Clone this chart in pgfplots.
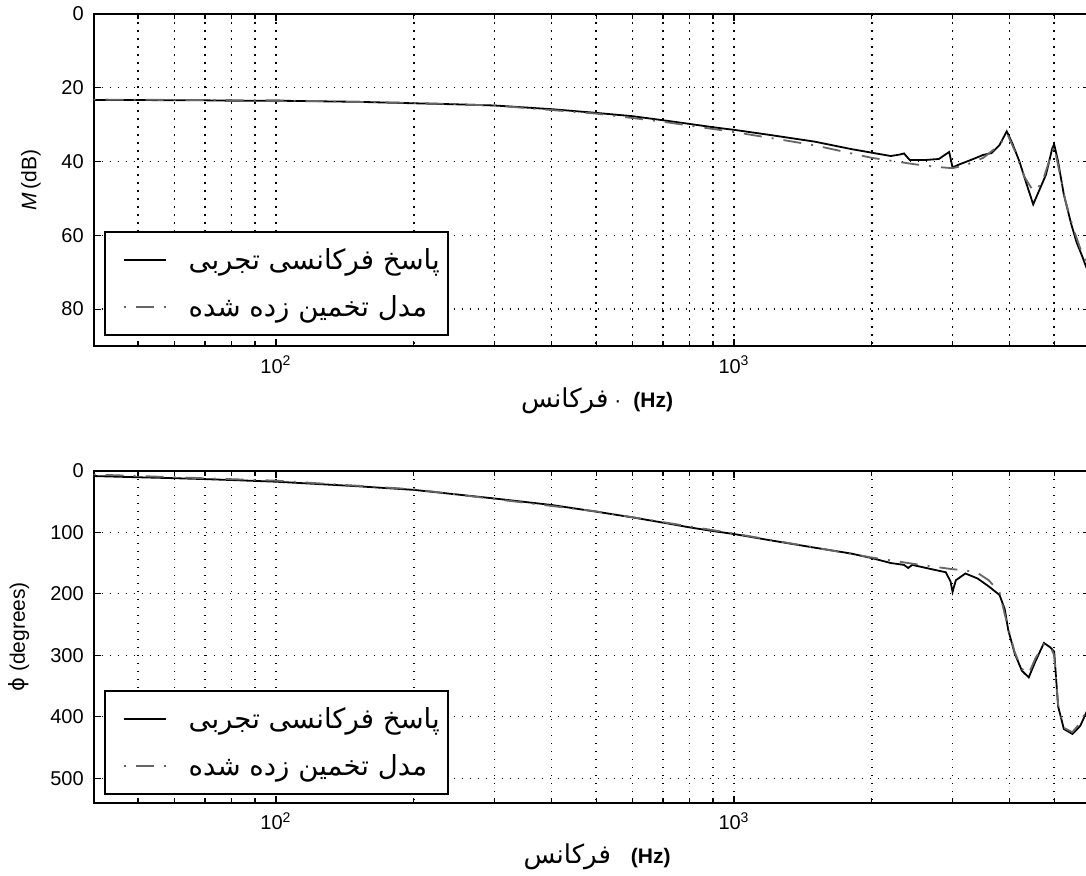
\documentclass[border=0pt]{standalone}
\usepackage{pgfplots}
\pgfplotsset{compat=1.18}
\usepackage{fontspec}
\setmainfont{Liberation Sans}
\newfontfamily\arabicfont[Script=Arabic]{DejaVu Sans}
\newfontfamily\dejavu{DejaVu Sans}
\TeXXeTstate=1

\tikzset{
  expstyle/.style={black, line width=0.9pt},
  modstyle/.style={black!60, line width=0.9pt, dash pattern=on 1pt off 5pt on 9pt off 5pt},
}
\pgfplotsset{
  every axis/.append style={
    scale only axis, width=498.35pt, height=166pt,
    xmin=40, xmax=6000, y dir=reverse,
    xtick={100,1000}, xticklabels={10\textsuperscript{2},10\textsuperscript{3}},
    minor xtick={40,50,60,70,80,90,200,300,400,500,600,700,800,900,2000,3000,4000,5000},
    xmajorgrids=true, xminorgrids=true, ymajorgrids=true,
    major grid style={black, line width=0.7pt, dash pattern=on 0.8pt off 3.2pt},
    minor grid style={black, line width=0.7pt, dash pattern=on 0.8pt off 3.2pt},
    tick align=inside,
    major tick length=3.5pt, minor tick length=2.5pt,
    tick style={black, line width=0.6pt},
    axis line style={black, line width=0.8pt},
    tick label style={font=\fontsize{10}{12}\selectfont},
    yticklabel style={xshift=-1.5pt},
    xticklabel style={yshift=-1.5pt},
    label style={font=\fontsize{10.5}{12}\selectfont},
    xlabel style={at={(axis description cs:0.505,-0.184)}, anchor=base},
    legend cell align=left,
    legend style={anchor=south west,
      draw=black, line width=0.8pt, fill=white,
      inner xsep=2pt, inner ysep=6pt, row sep=7.5pt,
      /tikz/every odd column/.append style={column sep=9pt},
      font=\arabicfont\fontsize{13.8}{16}\selectfont},
  },
}

\begin{document}
\begin{tikzpicture}
\useasboundingbox (0,0) rectangle (543pt,-437.5pt);

% ---------------- magnitude ----------------
\begin{semilogxaxis}[
  at={(46.85pt,-7pt)}, anchor=north west,
  /pgf/number format/assume math mode=true,
  legend image code/.code={\path (0pt,0pt); \draw[#1] (7pt,0pt) -- (28pt,0pt);},
  legend style={at={(axis description cs:0.0103,0.03)}},
  ymin=0, ymax=90, ytick={0,20,40,60,80},
  ylabel={\textit{M}\,(dB)},
  ylabel style={at={(axis description cs:-0.0629,0.5)}, anchor=center},
  xlabel={{\arabicfont\fontsize{13}{15}\selectfont\beginR فرکانس\endR}\hspace{3pt}·\hspace{6pt}\textbf{(Hz)}},
]
\addplot[expstyle] coordinates {
(40,23.3) (50,23.3) (60,23.4) (70,23.4) (80,23.5) (100,23.5) (150,23.8) (200,24.2)
(250,24.5) (300,24.8) (400,25.8) (500,26.8) (600,27.7) (700,28.8) (800,29.8) (900,30.7)
(1000,31.4) (1200,32.8) (1500,34.6) (1800,36.6) (2000,37.6) (2200,38.5) (2300,38.1)
(2350,37.8) (2420,39.6) (2600,39.6) (2800,39.3) (2950,37.4) (3000,41.6) (3100,40.8)
(3300,39.5) (3500,38.2) (3650,37.7) (3800,35.5) (3940,31.8) (4050,35) (4200,40)
(4350,46) (4500,51.6) (4650,47.5) (4800,43.5) (4950,36.5) (5000,35.3) (5100,40)
(5250,49) (5450,57) (5600,62) (5750,65.5) (5870,68.5) (6000,71)
};
\addlegendentry{\beginR پاسخ فرکانسی تجربی\endR}
\addplot[modstyle] coordinates {
(40,23.2) (100,23.4) (200,24.1) (300,24.8) (500,27.0) (700,29.2) (1000,32.0)
(1300,34.3) (1500,35.6) (2000,39.0) (2500,40.8) (2800,41.5) (3000,41.8) (3200,41)
(3500,39) (3800,35.5) (3950,32.5) (4100,37) (4300,44) (4500,48) (4700,46) (4900,39)
(5000,36) (5100,41) (5300,51) (5500,58) (5700,63.5) (6000,70)
};
\addlegendentry{\beginR مدل تخمین زده شده\endR}
\end{semilogxaxis}

% ---------------- phase ----------------
\begin{semilogxaxis}[
  at={(46.85pt,-235.4pt)}, anchor=north west,
  /pgf/number format/assume math mode=true,
  legend image code/.code={\path (0pt,0pt); \draw[#1] (7pt,0pt) -- (28pt,0pt);},
  legend style={at={(axis description cs:0.0103,0.024)}},
  ymin=0, ymax=540, ytick={0,100,200,300,400,500},
  ylabel={{\dejavu ϕ} (degrees)},
  ylabel style={at={(axis description cs:-0.0749,0.5)}, anchor=center},
  xlabel={{\arabicfont\fontsize{13}{15}\selectfont\beginR فرکانس\endR}\hspace{10pt}\textbf{(Hz)}},
]
\addplot[expstyle] coordinates {
(40,8.5) (50,10.5) (60,12) (70,13.5) (80,15) (100,17.7) (150,25) (200,31) (300,45)
(400,55.6) (500,66.4) (600,75.7) (700,84.3) (800,92) (900,98) (1000,102.8) (1200,113)
(1500,125) (1800,134.5) (2000,142) (2200,150) (2350,153) (2400,158) (2450,153)
(2700,160) (2900,165) (2970,180) (3000,197) (3050,178) (3200,167) (3400,175)
(3600,188) (3800,202) (3900,225) (3970,259) (4100,297) (4250,325) (4400,336)
(4550,310) (4750,280) (4900,287) (5000,294) (5100,383) (5250,420) (5480,428)
(5700,415) (5870,394) (6000,380)
};
\addlegendentry{\beginR پاسخ فرکانسی تجربی\endR}
\addplot[modstyle] coordinates {
(40,6) (100,16) (200,30) (500,66) (1000,102) (2000,141) (2500,152) (2800,157)
(3000,160) (3200,162) (3400,166) (3600,178) (3800,198) (3950,250) (4100,295)
(4250,322) (4400,330) (4550,305) (4750,282) (4900,285) (5000,300) (5100,380)
(5250,418) (5480,425) (5700,410) (6000,375)
};
\addlegendentry{\beginR مدل تخمین زده شده\endR}
\end{semilogxaxis}
\end{tikzpicture}
\end{document}
